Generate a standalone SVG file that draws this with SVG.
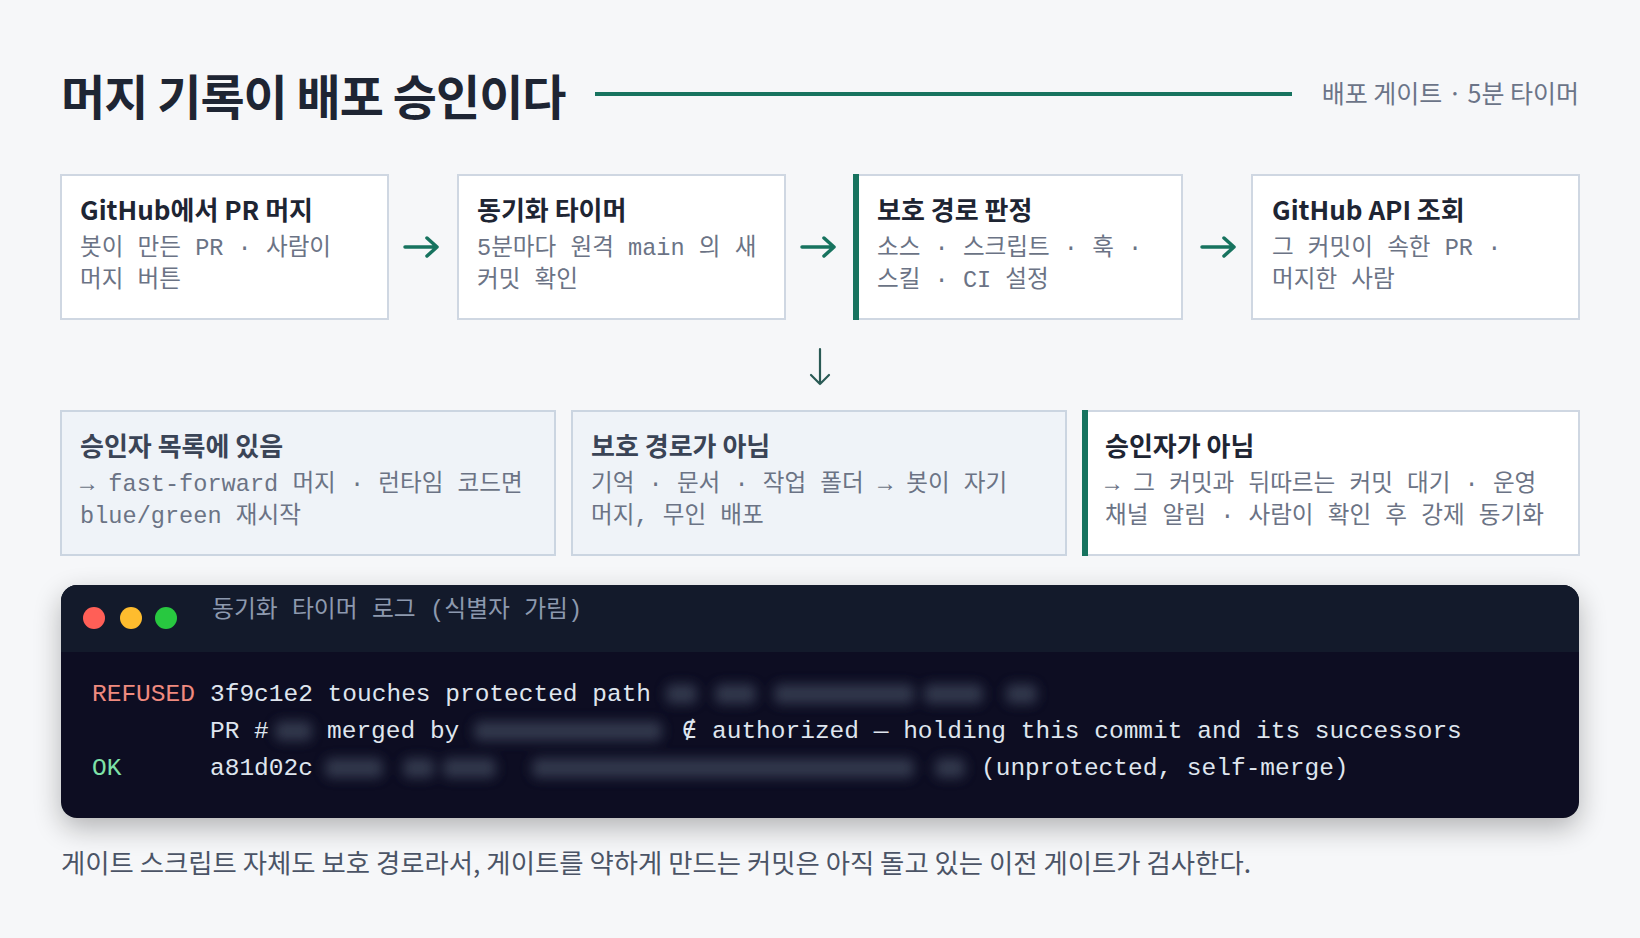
<svg xmlns="http://www.w3.org/2000/svg" width="1640" height="938" viewBox="0 0 1640 938">
<defs>
<style>
.sans{font-family:"Noto Sans CJK KR","Noto Sans",sans-serif}
.mono{font-family:"Liberation Mono","Noto Sans CJK KR",monospace}
.ttl{font-family:"Noto Sans CJK KR","Noto Sans",sans-serif;font-weight:700;font-size:26px;fill:#1e2533}
.ttl2{font-family:"Noto Sans CJK KR","Noto Sans",sans-serif;font-weight:700;font-size:26px;fill:#3a4456}
.sub{font-family:"Liberation Mono","Noto Sans CJK KR",monospace;font-size:23.6px;fill:#6b7385}
.box{fill:#ffffff;stroke:#cfd7e2;stroke-width:2}
.box2{fill:#eff3f8;stroke:#cbd5e1;stroke-width:2}
.bar{fill:#17735f}
.log{font-family:"Liberation Mono","DejaVu Sans Mono",monospace;font-size:24.5px;fill:#dfe5ee}
.log.red{fill:#ef8a7f}
.log.grn{fill:#7ee2a8}
.conn{fill:none;stroke:#17735f;stroke-width:3.5;stroke-linecap:round;stroke-linejoin:round}
.blur{fill:#3a4256}
</style>
<filter id="sh" x="-10%" y="-30%" width="120%" height="170%">
<feGaussianBlur in="SourceAlpha" stdDeviation="14"/>
<feOffset dy="10"/>
<feComponentTransfer><feFuncA type="linear" slope="0.28"/></feComponentTransfer>
<feMerge><feMergeNode/><feMergeNode in="SourceGraphic"/></feMerge>
</filter>
<filter id="bl" x="-20%" y="-80%" width="140%" height="260%">
<feGaussianBlur stdDeviation="6"/>
</filter>
</defs>
<rect width="1640" height="938" fill="#f6f7f9"/>

<g id="header">
<text x="61" y="115" class="sans" font-size="48" font-weight="700" fill="#1e2533" letter-spacing="-1">머지 기록이 배포 승인이다</text>
<line x1="595" y1="94" x2="1292" y2="94" stroke="#17735f" stroke-width="4"/>
<text x="1579" y="103" class="sans" font-size="25" fill="#6b7488" text-anchor="end">배포 게이트 · 5분 타이머</text>
</g>

<g id="n1">
<rect class="box" x="61" y="175" width="327" height="144"/>
<text class="ttl" x="80" y="220">GitHub에서 PR 머지</text>
<text class="sub" x="80" y="255">봇이 만든 PR · 사람이</text>
<text class="sub" x="80" y="287">머지 버튼</text>
</g>
<g id="n2">
<rect class="box" x="458" y="175" width="327" height="144"/>
<text class="ttl" x="477" y="220">동기화 타이머</text>
<text class="sub" x="477" y="255">5분마다 원격 main 의 새</text>
<text class="sub" x="477" y="287">커밋 확인</text>
</g>
<g id="n3">
<rect class="box" x="855" y="175" width="327" height="144"/>
<rect class="bar" x="853" y="174" width="6" height="146"/>
<text class="ttl" x="877" y="220">보호 경로 판정</text>
<text class="sub" x="877" y="255">소스 · 스크립트 · 훅 ·</text>
<text class="sub" x="877" y="287">스킬 · CI 설정</text>
</g>
<g id="n4">
<rect class="box" x="1252" y="175" width="327" height="144"/>
<text class="ttl" x="1272" y="220">GitHub API 조회</text>
<text class="sub" x="1272" y="255">그 커밋이 속한 PR ·</text>
<text class="sub" x="1272" y="287">머지한 사람</text>
</g>

<g id="n5">
<rect class="box2" x="61" y="411" width="494" height="144"/>
<text class="ttl2" x="80" y="456">승인자 목록에 있음</text>
<text class="sub" x="80" y="491">→ fast-forward 머지 · 런타임 코드면</text>
<text class="sub" x="80" y="523">blue/green 재시작</text>
</g>
<g id="n6">
<rect class="box2" x="572" y="411" width="494" height="144"/>
<text class="ttl2" x="591" y="456">보호 경로가 아님</text>
<text class="sub" x="591" y="491">기억 · 문서 · 작업 폴더 → 봇이 자기</text>
<text class="sub" x="591" y="523">머지, 무인 배포</text>
</g>
<g id="n7">
<rect class="box" x="1084" y="411" width="495" height="144"/>
<rect class="bar" x="1082" y="410" width="6" height="146"/>
<text class="ttl" x="1105" y="456">승인자가 아님</text>
<text class="sub" x="1105" y="491">→ 그 커밋과 뒤따르는 커밋 대기 · 운영</text>
<text class="sub" x="1105" y="523">채널 알림 · 사람이 확인 후 강제 동기화</text>
</g>

<g id="connectors">
<path class="conn" d="M405 247 H437 M427 238 L437 247 L427 256"/>
<path class="conn" d="M802 247 H834 M824 238 L834 247 L824 256"/>
<path class="conn" d="M1202 247 H1234 M1224 238 L1234 247 L1224 256"/>
<path d="M820 349 V384 M811 375 L820 384 L829 375" fill="none" stroke="#2a5a55" stroke-width="2.2" stroke-linecap="round" stroke-linejoin="round"/>
</g>

<g id="terminal">
<g filter="url(#sh)">
<rect x="61" y="585" width="1518" height="233" rx="16" fill="#0b1120"/>
</g>
<path d="M61 652 V601 A16 16 0 0 1 77 585 H1563 A16 16 0 0 1 1579 601 V652 Z" fill="#131a2b"/>
<circle cx="94" cy="618" r="11" fill="#ff5f57"/>
<circle cx="131" cy="618" r="11" fill="#febc2e"/>
<circle cx="166" cy="618" r="11" fill="#28c840"/>
<text class="mono" x="212" y="617" font-size="23.8" fill="#8d99ae">동기화 타이머 로그 (식별자 가림)</text>
<g filter="url(#bl)" opacity="0.8">
<rect class="blur" x="666" y="684" width="31" height="20" rx="6"/>
<rect class="blur" x="715" y="684" width="41" height="20" rx="6"/>
<rect class="blur" x="774" y="684" width="140" height="20" rx="6"/>
<rect class="blur" x="924" y="684" width="59" height="20" rx="6"/>
<rect class="blur" x="1006" y="684" width="31" height="20" rx="6"/>
<rect class="blur" x="275" y="721" width="37" height="20" rx="6"/>
<rect class="blur" x="474" y="721" width="188" height="20" rx="6"/>
<rect class="blur" x="325" y="758" width="58" height="20" rx="6"/>
<rect class="blur" x="403" y="758" width="31" height="20" rx="6"/>
<rect class="blur" x="443" y="758" width="53" height="20" rx="6"/>
<rect class="blur" x="532" y="758" width="382" height="20" rx="6"/>
<rect class="blur" x="935" y="758" width="30" height="20" rx="6"/>
</g>
<text class="log red" x="92" y="701">REFUSED</text>
<text class="log" x="210" y="701">3f9c1e2 touches protected path</text>
<text class="log" x="210" y="738">PR #</text>
<text class="log" x="327" y="738">merged by</text>
<text class="log" x="682" y="738">∉</text>
<text class="log" x="712" y="738">authorized — holding this commit and its successors</text>
<text class="log grn" x="92" y="775">OK</text>
<text class="log" x="210" y="775">a81d02c</text>
<text class="log" x="981" y="775">(unprotected, self-merge)</text>
</g>

<g id="footer">
<text x="61" y="873" class="sans" font-size="26.4" fill="#4b5466">게이트 스크립트 자체도 보호 경로라서, 게이트를 약하게 만드는 커밋은 아직 돌고 있는 이전 게이트가 검사한다.</text>
</g>
</svg>
